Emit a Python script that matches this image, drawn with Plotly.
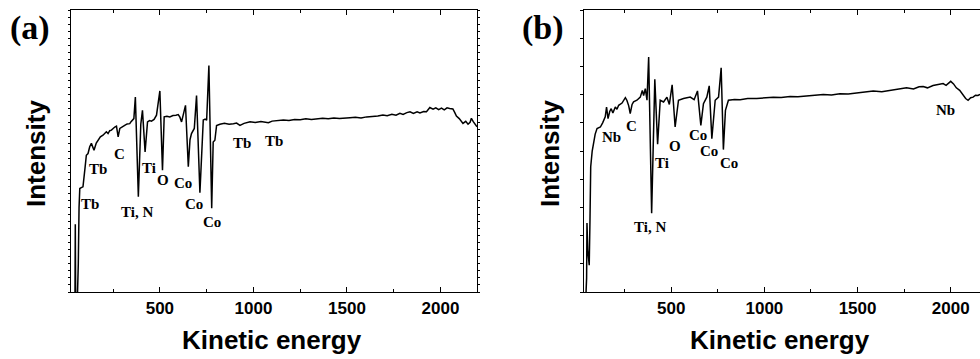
import plotly.graph_objects as go

# ---------------- data: panel (a) ----------------
energy_a = [25, 40, 46, 48, 50, 58, 64, 68, 72, 80, 89, 100, 107, 116, 125, 134, 148, 160, 169, 182, 196,
            205, 214, 223, 232, 241, 250, 259, 268, 277, 286, 298, 312, 325, 339, 346, 352, 361, 369,
            385, 398, 407, 421, 434, 445, 455, 469, 482, 500, 514, 523, 538, 553, 570, 586, 598, 607,
            616, 637, 652, 661, 669, 684, 696, 714, 732, 742, 750, 762, 777, 785, 794, 803, 821,
            845, 870, 893, 910, 928, 950, 982, 1010, 1040, 1062, 1080, 1100, 1130, 1160, 1190, 1220,
            1250, 1280, 1310, 1338, 1370, 1400, 1430, 1460, 1490, 1516, 1545, 1575, 1605, 1638,
            1665, 1692, 1715, 1740, 1762, 1783, 1800, 1820, 1837, 1855, 1875, 1890, 1910, 1925,
            1943, 1960, 1975, 1990, 2005, 2020, 2035, 2049, 2066, 2075, 2085, 2100, 2120, 2135,
            2147, 2158, 2165, 2175, 2187, 2195]
intensity_a = [-5, -5, -5, 24, -5, -5, 10, 30, 36.7, 37.0, 37.3, 44, 48.5, 49.1, 51.5, 52.7, 50.3, 52.8, 53.8, 55.0, 55.6,
               56.4, 56.8, 56.2, 57.2, 57.4, 58.0, 58.5, 58.8, 55.0, 58.0, 58.6, 59.1, 59.6, 59.7, 60.4, 60.9, 61.5, 69.1,
               33.8, 59.5, 64.4, 49.7, 60.3, 60.8, 60.6, 61.2, 62.7, 71.3, 43.2, 62.1, 62.3, 62.1, 62.6, 62.7, 62.9, 62.0,
               60.3, 66.2, 44.4, 54.0, 56.2, 58.0, 69.7, 35.2, 61.0, 61.3, 60.9, 80.3, 29.7, 53.2, 53.8, 59.0, 59.5,
               59.8, 59.5, 59.7, 59.9, 59.1, 59.8, 60.4, 60.1, 60.5, 60.3, 60.0, 60.6, 60.8, 61.0, 60.8, 61.2,
               61.1, 61.4, 61.2, 61.3, 61.6, 61.4, 61.7, 61.5, 61.8, 61.8, 62.0, 61.7, 62.1, 62.2,
               62.4, 62.8, 62.5, 63.0, 62.7, 63.4, 63.0, 63.6, 63.9, 63.3, 63.9, 63.5, 64.0, 63.9,
               65.4, 64.8, 65.3, 64.7, 65.2, 64.6, 65.3, 65.1, 64.9, 63.8, 62.4, 61.5, 59.8, 60.5,
               59.5, 60.2, 61.6, 60.4, 59.4, 58.6]

# ---------------- data: panel (b) ----------------
energy_b = [30, 40, 46, 48, 52, 60, 64, 68, 76, 84, 92, 102, 112, 120, 132, 146, 153, 161, 170, 178, 187,
            200, 209, 218, 236, 254, 262, 272, 280, 290, 298, 316, 334, 345, 352, 361, 370, 379, 395,
            412, 427, 441, 459, 477, 490, 505, 521, 539, 566, 602, 623, 641, 659, 673, 691, 704, 718,
            736, 754, 768, 780, 791, 807, 840, 870, 910, 959, 1000, 1048, 1090, 1138, 1180, 1227,
            1270, 1316, 1360, 1405, 1450, 1495, 1540, 1584, 1630, 1673, 1720, 1763, 1800, 1830,
            1852, 1875, 1905, 1930, 1959, 1975, 1990, 2000, 2015, 2030, 2048, 2066, 2080, 2093,
            2107, 2120, 2133, 2146, 2157]
intensity_b = [-5, -5, 5, 24.5, 15, 9.5, 25, 44.4, 50, 53.8, 56, 58.0, 58.3, 58.5, 60, 62.1, 65.6, 61.5, 64.0, 65.0, 63.5,
               65.6, 64.8, 66.2, 67.0, 68.9, 68.0, 66.0, 63.3, 66.5, 67.4, 68.0, 69.1, 71.5, 69.7, 72.1, 68.0, 83.3, 27.9,
               75.4, 52.4, 68.0, 67.4, 69.1, 66.5, 73.5, 58.5, 68.0, 68.6, 69.1, 68.2, 71.3, 59.1, 66.8, 69.1, 73.1, 54.4,
               68.0, 69.1, 79.5, 50.5, 64.4, 68.0, 68.3, 68.2, 68.6, 68.6, 68.9, 69.1, 69.0, 69.3, 69.2, 69.5,
               69.7, 70.0, 69.9, 70.3, 70.2, 70.6, 70.9, 71.3, 71.0, 71.5, 71.8, 72.4, 72.0, 72.8,
               72.9, 72.4, 73.2, 73.4, 73.9, 73.3, 74.2, 74.7, 73.8, 72.4, 71.5, 69.7, 68.6, 68.0,
               68.9, 69.1, 69.8, 69.7, 70.1]

# ---------------- labels ----------------
labels_a = ["Tb", "Tb", "C", "Ti, N", "Ti", "O", "Co", "Co", "Co", "Tb", "Tb"]
label_a_x = [125, 171, 282, 380, 443, 516, 625, 685, 777, 941, 1110]
label_a_y = [31.2, 43.5, 49.1, 28.2, 43.8, 39.7, 38.6, 31.2, 24.7, 53.0, 53.6]

labels_b = ["Nb", "C", "Ti, N", "Ti", "O", "Co", "Co", "Co", "Nb"]
label_b_x = [177, 286, 388, 450, 518, 643, 704, 809, 1970]
label_b_y = [55.0, 58.8, 23.2, 45.8, 51.8, 55.8, 49.9, 45.9, 64.7]

x_ticks = [500, 1000, 1500, 2000]

W, H = 980, 359
fig = go.Figure()
fig.add_trace(go.Scatter(x=energy_a, y=intensity_a, mode="lines", xaxis="x", yaxis="y",
                         line=dict(color="black", width=1.5), showlegend=False, hoverinfo="skip"))
fig.add_trace(go.Scatter(x=energy_b, y=intensity_b, mode="lines", xaxis="x2", yaxis="y2",
                         line=dict(color="black", width=1.5), showlegend=False, hoverinfo="skip"))

ydom = [(H - 292) / H, (H - 10) / H]
tickfont = dict(family="Liberation Sans, Arial", size=17, color="black", weight="bold")

common_x = dict(showline=True, linecolor="black", linewidth=1.3, ticks="inside", ticklen=5,
                tickcolor="black", tickwidth=1, tickvals=x_ticks, tickfont=tickfont,
                showgrid=False, zeroline=False, mirror="allticks",
                minor=dict(ticks="inside", ticklen=3, dtick=250, tick0=0, tickcolor="black", showgrid=False))

fig.update_layout(
    width=W, height=H, margin=dict(l=0, r=0, t=0, b=0),
    paper_bgcolor="white", plot_bgcolor="white",
    xaxis=dict(domain=[71 / W, 477 / W], range=[25, 2195], anchor="y", **common_x),
    yaxis=dict(domain=ydom, range=[0, 100], anchor="x", showline=True, linecolor="black", linewidth=1.3,
               ticks="outside", ticklen=2, dtick=2.5, tick0=0, tickcolor="black", showticklabels=False,
               showgrid=False, zeroline=False, mirror="allticks"),
    xaxis2=dict(domain=[584 / W, 1.0], range=[32, 2157], anchor="y2", **common_x),
    yaxis2=dict(domain=ydom, range=[0, 100], anchor="x2", showline=True, linecolor="black", linewidth=1.3,
                ticks="outside", ticklen=3, dtick=10, tick0=0, tickcolor="black", showticklabels=False,
                showgrid=False, zeroline=False, mirror=False),
)

annots = []
serif = dict(family="Liberation Serif, Times New Roman", size=15, color="black", weight="bold")
for t, xv, yv in zip(labels_a, label_a_x, label_a_y):
    annots.append(dict(text=t, x=xv, y=yv, xref="x", yref="y", showarrow=False, font=serif,
                       xanchor="center", yanchor="middle"))
for t, xv, yv in zip(labels_b, label_b_x, label_b_y):
    annots.append(dict(text=t, x=xv, y=yv, xref="x2", yref="y2", showarrow=False, font=serif,
                       xanchor="center", yanchor="middle"))

big = dict(family="Liberation Serif, Times New Roman", size=34, color="black", weight="bold")
annots.append(dict(text="(a)", x=30 / W, y=1 - 28 / H, xref="paper", yref="paper", showarrow=False,
                   font=big, xanchor="center", yanchor="middle"))
annots.append(dict(text="(b)", x=543 / W, y=1 - 28 / H, xref="paper", yref="paper", showarrow=False,
                   font=big, xanchor="center", yanchor="middle"))

title_font = dict(family="Liberation Sans, Arial", size=26, color="black", weight="bold")
for xc in (272, 780):
    annots.append(dict(text="Kinetic energy", x=xc / W, y=1 - 340 / H, xref="paper", yref="paper",
                       showarrow=False, font=title_font, xanchor="center", yanchor="middle"))
for xc in (36, 550):
    annots.append(dict(text="Intensity", x=xc / W, y=1 - 154 / H, xref="paper", yref="paper",
                       showarrow=False, font=title_font, xanchor="center", yanchor="middle", textangle=-90))
fig.update_layout(annotations=annots)

fig.write_html("out.html", config={"displayModeBar": False},
               post_script="document.body.style.margin='0px';document.body.style.overflow='hidden';")
